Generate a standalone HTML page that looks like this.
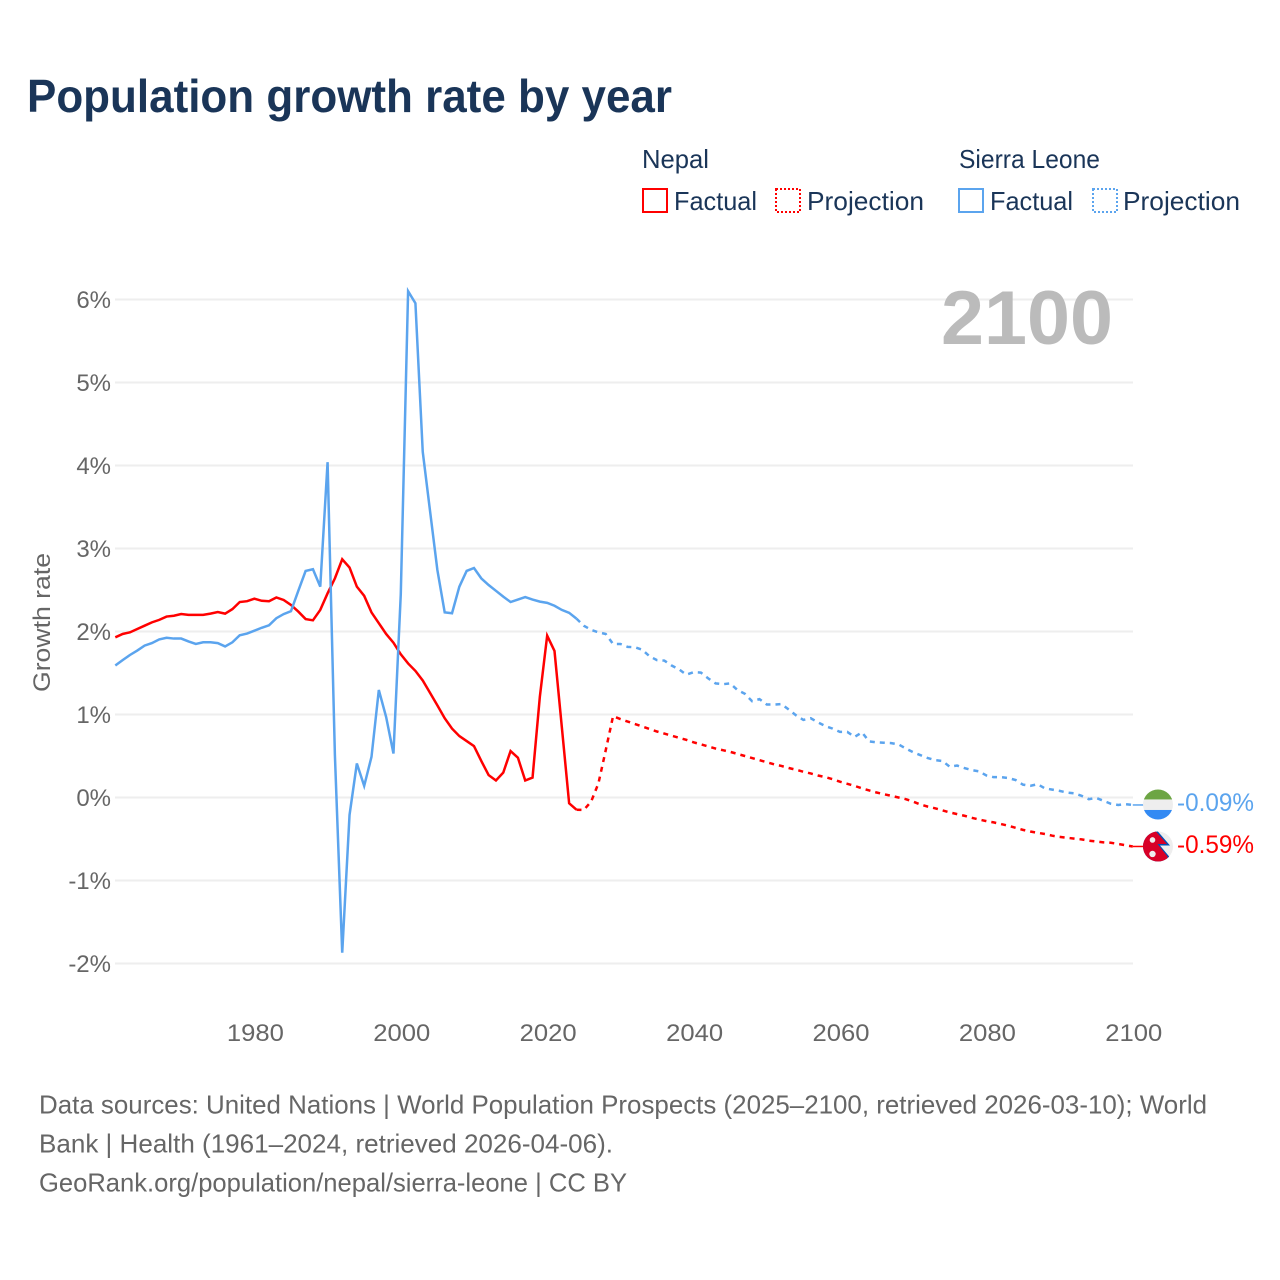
<!DOCTYPE html>
<html lang="en">
<head>
<meta charset="utf-8">
<title>Population growth rate by year</title>
<style>
html,body{margin:0;padding:0;background:#fff;}
svg{display:block;}
text{font-family:"Liberation Sans",sans-serif;}
</style>
</head>
<body>
<svg id="chart" xmlns="http://www.w3.org/2000/svg" width="1280" height="1280" viewBox="0 0 1280 1280">
  <defs><clipPath id="flag-clip"><circle cx="0" cy="0" r="15"></circle></clipPath></defs>
  <rect x="0" y="0" width="1280" height="1280" fill="#ffffff"></rect>
  <text x="27" y="112" font-size="46" font-weight="700" fill="#1a3558" textLength="645" lengthAdjust="spacingAndGlyphs">Population growth rate by year</text>

  <g font-size="26" fill="#1a3558">
    <text x="642" y="168" textLength="67" lengthAdjust="spacingAndGlyphs">Nepal</text>
    <rect x="643" y="189" width="24" height="23" fill="none" stroke="#ff0000" stroke-width="2"></rect>
    <text x="674" y="210" textLength="83" lengthAdjust="spacingAndGlyphs">Factual</text>
    <rect x="776" y="189" width="24" height="23" fill="none" stroke="#ff0000" stroke-width="2" stroke-dasharray="2,2"></rect>
    <text x="807" y="210" textLength="117" lengthAdjust="spacingAndGlyphs">Projection</text>
    <text x="959" y="168" textLength="141" lengthAdjust="spacingAndGlyphs">Sierra Leone</text>
    <rect x="959" y="189" width="24" height="23" fill="none" stroke="#5ba4ee" stroke-width="2"></rect>
    <text x="990" y="210" textLength="83" lengthAdjust="spacingAndGlyphs">Factual</text>
    <rect x="1093" y="189" width="24" height="23" fill="none" stroke="#5ba4ee" stroke-width="2" stroke-dasharray="2,2"></rect>
    <text x="1123" y="210" textLength="117" lengthAdjust="spacingAndGlyphs">Projection</text>
  </g>

  <g id="grid"></g>
  <g id="y-axis"></g>
  <g id="x-axis"></g>
  <text transform="translate(50,622.5) rotate(-90)" text-anchor="middle" font-size="24" fill="#666666" textLength="139" lengthAdjust="spacingAndGlyphs">Growth rate</text>
  <text x="941" y="344" font-size="76" font-weight="700" fill="#bbbbbb" textLength="172" lengthAdjust="spacingAndGlyphs">2100</text>
  <g id="series"></g>
  <g id="ends"></g>

  <g font-size="26" fill="#666666">
    <text x="39" y="1113.5" textLength="1168" lengthAdjust="spacingAndGlyphs">Data sources: United Nations | World Population Prospects (2025–2100, retrieved 2026-03-10); World</text>
    <text x="39" y="1152.5" textLength="574" lengthAdjust="spacingAndGlyphs">Bank | Health (1961–2024, retrieved 2026-04-06).</text>
    <text x="39" y="1191.5" textLength="588" lengthAdjust="spacingAndGlyphs">GeoRank.org/population/nepal/sierra-leone | CC BY</text>
  </g>
</svg>
<script>
const yTicks = [-2, -1, 0, 1, 2, 3, 4, 5, 6];
const xTicks = [1980, 2000, 2020, 2040, 2060, 2080, 2100];

const factualStartYear = 1961;
const projectionStartYear = 2024;

const nepalFactual = [1.93,1.97,1.99,2.03,2.07,2.11,2.14,2.18,2.19,2.21,2.20,2.20,2.20,2.215,2.235,2.215,2.27,2.355,2.365,2.395,2.37,2.365,2.41,2.38,2.32,2.24,2.15,2.135,2.26,2.46,2.64,2.87,2.77,2.54,2.43,2.23,2.10,1.97,1.865,1.725,1.615,1.525,1.41,1.26,1.11,0.955,0.83,0.74,0.68,0.62,0.44,0.27,0.205,0.30,0.56,0.48,0.205,0.24,1.215,1.95,1.765,0.85,-0.07,-0.147];

const nepalProjection = [-0.147,-0.15,-0.05,0.17,0.57,0.98,0.945,0.915,0.885,0.855,0.825,0.795,0.77,0.745,0.72,0.695,0.665,0.64,0.615,0.59,0.57,0.55,0.525,0.50,0.475,0.45,0.425,0.40,0.38,0.355,0.335,0.31,0.29,0.265,0.245,0.22,0.19,0.165,0.14,0.11,0.085,0.06,0.04,0.02,0,-0.02,-0.05,-0.085,-0.11,-0.13,-0.155,-0.18,-0.20,-0.22,-0.245,-0.265,-0.285,-0.30,-0.32,-0.34,-0.365,-0.39,-0.41,-0.425,-0.44,-0.46,-0.475,-0.485,-0.495,-0.505,-0.52,-0.53,-0.54,-0.545,-0.56,-0.575,-0.59];

const sierraLeoneFactual = [1.59,1.655,1.717,1.77,1.83,1.86,1.905,1.925,1.915,1.915,1.88,1.85,1.87,1.87,1.86,1.82,1.87,1.955,1.975,2.01,2.045,2.075,2.16,2.21,2.245,2.49,2.73,2.75,2.54,4.04,0.51,-1.87,-0.21,0.41,0.14,0.49,1.295,0.97,0.53,2.45,6.10,5.955,4.165,3.45,2.74,2.23,2.22,2.54,2.73,2.765,2.64,2.56,2.49,2.42,2.355,2.385,2.415,2.385,2.36,2.345,2.31,2.26,2.225,2.155];

const sierraLeoneProjection = [2.155,2.07,2.02,1.99,1.97,1.85,1.85,1.815,1.81,1.78,1.70,1.655,1.65,1.59,1.545,1.48,1.51,1.505,1.435,1.375,1.365,1.375,1.295,1.25,1.16,1.185,1.12,1.12,1.125,1.06,0.99,0.935,0.955,0.905,0.86,0.83,0.79,0.79,0.73,0.785,0.675,0.665,0.66,0.655,0.64,0.59,0.545,0.51,0.475,0.45,0.44,0.37,0.385,0.355,0.33,0.315,0.265,0.245,0.245,0.235,0.21,0.155,0.14,0.16,0.11,0.095,0.08,0.06,0.05,0.02,-0.02,-0.005,-0.04,-0.075,-0.09,-0.08,-0.09];

const SVGNS = 'http://www.w3.org/2000/svg';
const RED = '#ff0000';
const BLUE = '#5ba4ee';
const GREY = '#666666';
const xScale = function (year) { return 115.3 + (year - 1961) * 7.32; };
const yScale = function (value) { return 797.5 - value * 83; };

function make(tag, attrs, parent, content) {
  const el = document.createElementNS(SVGNS, tag);
  Object.keys(attrs).forEach(function (k) { el.setAttribute(k, attrs[k]); });
  if (content !== undefined) el.textContent = content;
  parent.appendChild(el);
  return el;
}

const gridGroup = document.getElementById('grid');
const yAxisGroup = document.getElementById('y-axis');
yTicks.forEach(function (tick) {
  const gridLine = make('line', { x1: 115, x2: 1133, y1: yScale(tick), y2: yScale(tick), stroke: '#eeeeee', 'stroke-width': 2 }, gridGroup);
  
  
  const yLabel = make('text', { x: 111, y: yScale(tick) + 8.5, 'text-anchor': 'end', 'font-size': 24, fill: GREY }, yAxisGroup, tick + '%');
  
  
});

const xAxisGroup = document.getElementById('x-axis');
xTicks.forEach(function (tick) {
  const xLabel = make('text', { x: xScale(tick) + 1, y: 1041, 'text-anchor': 'middle', 'font-size': 24, fill: GREY, textLength: 57, lengthAdjust: 'spacingAndGlyphs' }, xAxisGroup, String(tick));
  
  
});

function pointsFor(values, startYear) {
  return values.map(function (v, i) {
    return xScale(startYear + i).toFixed(2) + ',' + yScale(v).toFixed(2);
  }).join(' ');
}

const seriesGroup = document.getElementById('series');

const lineNepalFactual = make('polyline', { points: pointsFor(nepalFactual, factualStartYear), fill: 'none', stroke: RED, 'stroke-width': 2.5, 'stroke-linejoin': 'miter' }, seriesGroup);



const lineNepalProjection = make('polyline', { points: pointsFor(nepalProjection, projectionStartYear), fill: 'none', stroke: RED, 'stroke-width': 2.5, 'stroke-dasharray': '5,5' }, seriesGroup);



const lineSierraFactual = make('polyline', { points: pointsFor(sierraLeoneFactual, factualStartYear), fill: 'none', stroke: BLUE, 'stroke-width': 2.5, 'stroke-linejoin': 'miter' }, seriesGroup);



const lineSierraProjection = make('polyline', { points: pointsFor(sierraLeoneProjection, projectionStartYear), fill: 'none', stroke: BLUE, 'stroke-width': 2.5, 'stroke-dasharray': '5,5' }, seriesGroup);



const endsGroup = document.getElementById('ends');
const lastSierra = sierraLeoneProjection[sierraLeoneProjection.length - 1];
const lastNepal = nepalProjection[nepalProjection.length - 1];

const leaderSierra = make('line', { x1: xScale(2100), x2: 1145, y1: yScale(lastSierra), y2: yScale(lastSierra), stroke: BLUE, 'stroke-width': 1.5 }, endsGroup);



const leaderNepal = make('line', { x1: xScale(2100), x2: 1145, y1: yScale(lastNepal), y2: yScale(lastNepal), stroke: RED, 'stroke-width': 1.5 }, endsGroup);



const flagSierra = make('g', { transform: 'translate(1158,' + (yScale(lastSierra) - 0.5) + ')', 'clip-path': 'url(#flag-clip)' }, endsGroup);


make('rect', { x: -16, y: -16, width: 32, height: 11, fill: '#6da544' }, flagSierra);
make('rect', { x: -16, y: -5, width: 32, height: 10.5, fill: '#eeeeee' }, flagSierra);
make('rect', { x: -16, y: 5.5, width: 32, height: 11, fill: '#338af3' }, flagSierra);

const flagNepal = make('g', { transform: 'translate(1158,' + yScale(lastNepal) + ')', 'clip-path': 'url(#flag-clip)' }, endsGroup);


make('rect', { x: -16, y: -16, width: 32, height: 32, fill: '#eeeeee' }, flagNepal);
make('polygon', { points: '-16,-16 -1,-16 12,-1 2,-1 12,11 12,16 -16,16', fill: '#0052b4' }, flagNepal);
make('polygon', { points: '-16,-16 -3,-16 9,-2.5 -0.5,-2.5 9.5,10 9.5,16 -16,16', fill: '#d80027' }, flagNepal);
make('circle', { cx: -5.5, cy: -6.5, r: 2.8, fill: '#eeeeee' }, flagNepal);
make('circle', { cx: -5.5, cy: 7.5, r: 3.2, fill: '#eeeeee' }, flagNepal);

const valueSierra = make('text', { x: 1177, y: yScale(lastSierra) + 6, 'font-size': 25, fill: BLUE, textLength: 77, lengthAdjust: 'spacingAndGlyphs' }, endsGroup, lastSierra.toFixed(2) + '%');



const valueNepal = make('text', { x: 1177, y: yScale(lastNepal) + 6.5, 'font-size': 25, fill: RED, textLength: 77, lengthAdjust: 'spacingAndGlyphs' }, endsGroup, lastNepal.toFixed(2) + '%');


</script>
</body>
</html>
